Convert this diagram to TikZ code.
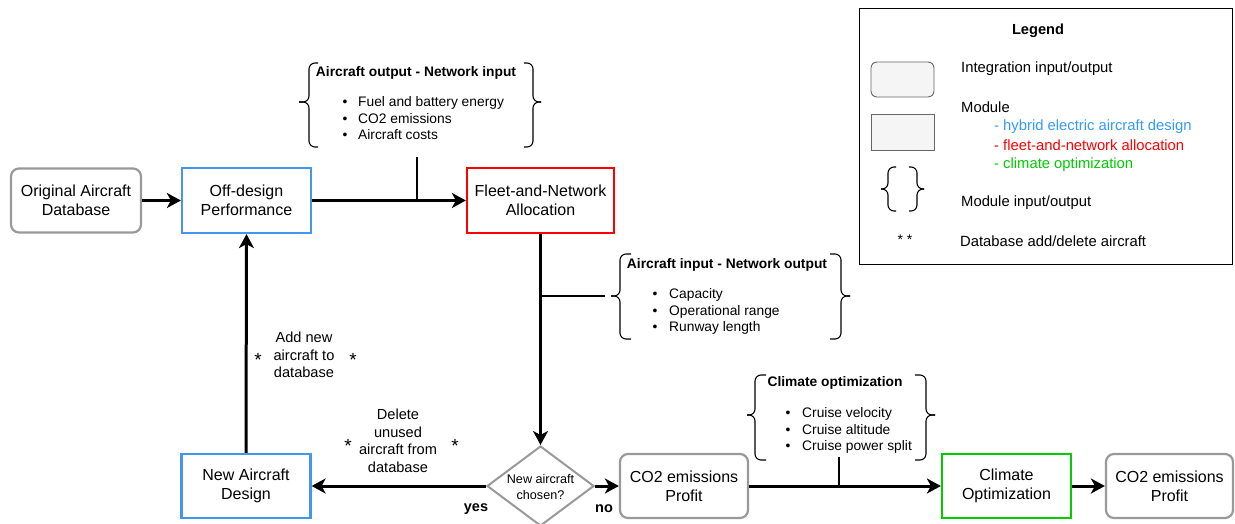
\documentclass[tikz,border=0pt]{standalone}
\usepackage{fontspec}
\setmainfont{Liberation Sans}
\usetikzlibrary{arrows.meta,shapes.geometric}
\definecolor{modblue}{HTML}{4495EE}
\definecolor{txtblue}{HTML}{3399FF}
\definecolor{modred}{HTML}{FF0000}
\definecolor{modgreen}{HTML}{00CC00}
\definecolor{iogray}{HTML}{999999}
\definecolor{leggray}{HTML}{666666}
\definecolor{legfill}{HTML}{F5F5F5}
\newcommand{\fs}[2]{\fontsize{#1}{#2}\selectfont}
% left brace: tip x, line x, tick x, top y, mid y, bottom y
\newcommand{\drawbrL}[6]{%
  \draw[bracestyle] (#3,#4) -- (#2,#4) -- (#2,#5) -- (#1,#5);
  \draw[bracestyle] (#1,#5) -- (#2,#5) -- (#2,#6) -- (#3,#6);}
\begin{document}
\begin{tikzpicture}[x=1pt,y=-1pt,
  boxtext/.style={font=\fs{16}{19}, align=center, inner sep=0pt},
  iobox/.style={boxtext, draw=iogray, line width=2.2pt, rounded corners=8pt, minimum height=64pt},
  modbox/.style={boxtext, line width=2.2pt, minimum height=64pt},
  arr/.style={line width=3pt, -{Stealth[length=14pt,width=15pt,inset=4pt]}},
  tick/.style={line width=1.6pt},
  bracestyle/.style={line width=1.1pt, rounded corners=6pt},
  brtitle/.style={font=\bfseries\fs{13.8}{16.5}, anchor=base, inner sep=0pt},
  britem/.style={font=\fs{13.8}{16.5}, anchor=base west, inner sep=0pt},
  bul/.style={font=\fs{13.8}{16.5}, anchor=base, inner sep=0pt},
  lbl/.style={font=\fs{14.6}{17.5}, align=center, inner sep=0pt},
  star/.style={font=\fs{19}{20}, inner sep=0pt},
  legtext/.style={font=\fs{14.8}{18}, anchor=west, inner sep=0pt}]
\useasboundingbox (0,0) rectangle (1235,523);

% ---------- main boxes ----------
\node[iobox, minimum width=130pt] (orig) at (76,200.5) {Original Aircraft\\Database};
\node[modbox, draw=modblue, minimum width=129pt, minimum height=65pt] (off) at (246.5,200.5) {Off-design\\Performance};
\node[modbox, draw=modred, minimum width=147pt, minimum height=65pt] (fleet) at (540.5,200.5) {Fleet-and-Network\\Allocation};
\node[modbox, draw=modblue, minimum width=129pt] (nad) at (246,486) {New Aircraft\\Design};
\node[diamond, draw=iogray, line width=2pt, minimum width=107pt, minimum height=80pt, inner sep=0pt] (dec) at (540.5,486) {};
\node[font=\fs{12.6}{16}, align=center, inner sep=0pt] (dectxt) at (540.5,487) {New aircraft\\chosen?};
\node[iobox, minimum width=128pt] (co2a) at (684,486) {CO2 emissions\\Profit};
\node[modbox, draw=modgreen, minimum width=129pt] (clim) at (1006.5,486) {Climate\\Optimization};
\node[iobox, minimum width=127pt] (co2b) at (1169.5,486) {CO2 emissions\\Profit};

% ---------- connectors ----------
\draw[arr] (orig.east) -- (off.west);
\draw[arr] (off.east) -- (fleet.west);
\draw[arr] (fleet.south) -- (dec.north);
\draw[arr] (dec.west) -- (nad.east);
\draw[arr] (dec.east) -- (co2a.west);
\draw[arr] (co2a.east) -- (clim.west);
\draw[arr] (clim.east) -- (co2b.west);
\draw[arr] (nad.north) -- (off.south);

% ---------- tick lines to braces ----------
\coordinate (t1a) at (417,200.5); \coordinate (t1b) at (417,157);
\coordinate (t2a) at (541,296); \coordinate (t2b) at (605,296);
\coordinate (t3a) at (839,486); \coordinate (t3b) at (839,457);
\draw[tick] (t1a) -- (t1b);
\draw[tick] (t2a) -- (t2b);
\draw[tick] (t3a) -- (t3b);

% ---------- brace 1 ----------
\drawbrL{299}{309}{318}{63}{102}{147}
\drawbrL{541}{533}{524}{63}{102}{147}
\node[brtitle] (b1t) at (416,76) {Aircraft output - Network input};
\node[bul] (b1u1) at (345,106) {•};
\node[bul] (b1u2) at (345,123) {•};
\node[bul] (b1u3) at (345,139) {•};
\node[britem] (b1i1) at (358,106) {Fuel and battery energy};
\node[britem] (b1i2) at (358,123) {CO2 emissions};
\node[britem] (b1i3) at (358,139) {Aircraft costs};

% ---------- brace 2 ----------
\drawbrL{611}{620}{631}{254}{296}{339}
\drawbrL{850}{841}{830}{254}{296}{339}
\node[brtitle] (b2t) at (727,268) {Aircraft input - Network output};
\node[bul] (b2u1) at (655,298) {•};
\node[bul] (b2u2) at (655,315) {•};
\node[bul] (b2u3) at (655,331) {•};
\node[britem] (b2i1) at (669,298) {Capacity};
\node[britem] (b2i2) at (669,315) {Operational range};
\node[britem] (b2i3) at (669,331) {Runway length};

% ---------- brace 3 ----------
\drawbrL{747}{755}{766}{375}{415}{460}
\drawbrL{935}{926}{915}{375}{415}{460}
\node[brtitle] (b3t) at (835,386) {Climate optimization};
\node[bul] (b3u1) at (788,417) {•};
\node[bul] (b3u2) at (788,434) {•};
\node[bul] (b3u3) at (788,450) {•};
\node[britem] (b3i1) at (802,417) {Cruise velocity};
\node[britem] (b3i2) at (802,434) {Cruise altitude};
\node[britem] (b3i3) at (802,450) {Cruise power split};

% ---------- labels ----------
\node[lbl] (addlbl) at (304,355) {Add new\\aircraft to\\database};
\node[star] (adds1) at (258,360) {*};
\node[star] (adds2) at (353,360) {*};
\node[lbl] (dellbl) at (398,441) {Delete\\unused\\aircraft from\\database};
\node[star] (dels1) at (348,446) {*};
\node[star] (dels2) at (455,446) {*};
\node[font=\bfseries\fs{14.5}{17}, inner sep=0pt] (yes) at (476,509) {yes};
\node[font=\bfseries\fs{14.5}{17}, inner sep=0pt] (no) at (604,509) {no};

% ---------- legend ----------
\node[draw=black, line width=0.9pt, minimum width=373pt, minimum height=256pt, inner sep=0pt] (legend) at (1045.5,136) {};
\node[font=\bfseries\fs{14.6}{17}, inner sep=0pt] (legt) at (1038,31) {Legend};
\node[draw=leggray, fill=legfill, line width=0.9pt, rounded corners=6pt, minimum width=63pt, minimum height=35pt, inner sep=0pt] (legio) at (902.5,79.5) {};
\node[legtext] (legiot) at (961,69) {Integration input/output};
\node[draw=leggray, fill=legfill, line width=0.9pt, minimum width=63pt, minimum height=36pt, inner sep=0pt] (legmod) at (902.5,132) {};
\node[legtext] (legmodt) at (961,107) {Module};
\node[legtext, text=txtblue] (legm1) at (994,127) {- hybrid electric aircraft design};
\node[legtext, text=modred] (legm2) at (994,145.5) {- fleet-and-network allocation};
\node[legtext, text=modgreen] (legm3) at (994,164.5) {- climate optimization};
\drawbrL{881}{888}{896}{167}{189}{211}
\drawbrL{924}{917}{909}{167}{189}{211}
\node[legtext] (legbrt) at (961,203) {Module input/output};
\node[font=\fs{14}{17}, inner sep=0pt] (legstar) at (905,240) {* *};
\node[legtext] (legstt) at (960,241) {Database add/delete aircraft};
\end{tikzpicture}
\end{document}
